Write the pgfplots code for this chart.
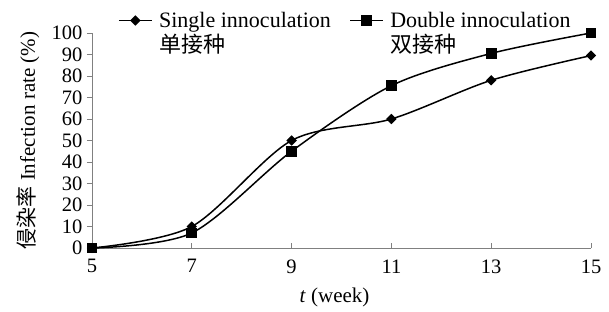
\documentclass[border=0pt]{standalone}
\usepackage{pgfplots}
\pgfplotsset{compat=1.18}
\usepackage{fontspec}
\setmainfont{Liberation Serif}
\newfontfamily\cjk{Noto Sans CJK SC}
\definecolor{axgray}{RGB}{128,128,128}
\begin{document}
\begin{tikzpicture}
\useasboundingbox (-92pt,-64pt) rectangle (517pt,248pt);
\begin{axis}[
  scale only axis, width=499pt, height=215pt,
  xmin=5, xmax=15, ymin=0, ymax=100,
  axis lines*=left,
  axis line style={axgray, line width=0.8pt},
  xtick={5,7,...,15}, ytick={0,10,...,100},
  tick align=outside,
  major tick length=5pt,
  tick style={axgray, line width=0.8pt},
  xtick style={yshift=5pt},
  clip=false,
  font=\fontsize{21}{24}\selectfont,
  tick label style={font=\fontsize{20.5}{24}\selectfont},
  /pgf/number format/assume math mode=true,
  xticklabel style={yshift=-3pt},
  yticklabel style={xshift=-1pt},
  ylabel={{\cjk 侵染率} Infection rate (\%)},
  xlabel={\textit{t} (week)},
  ylabel style={at={(axis description cs:-0.128,0.5)}, anchor=center},
  xlabel style={at={(axis description cs:0.486,-0.228)}, anchor=center},
  legend columns=2,
  legend cell align=left,
  legend style={draw=none, fill=none, inner sep=0pt,
    at={(axis description cs:0.052,1.105)}, anchor=north west,
    font=\fontsize{22}{24}\selectfont,
    nodes={inner sep=1.5pt},
    row sep=2pt,
    /tikz/every odd column/.append style={column sep=5pt},
    /tikz/every even column/.append style={column sep=17pt}},
  legend image code/.code={\draw[#1, mark=none] (0pt,0pt) -- (33pt,0pt);
     \draw[#1] plot coordinates {(16.5pt,0pt)};},
]
\addplot[black, line width=1.5pt, smooth, tension=0.5, mark=square*, mark size=2.9pt,
  mark options={solid, rotate=45}] coordinates {(5,0) (7,10) (9,50) (11,60) (13,78) (15,89.5)};
\addlegendentry{Single innoculation}
\addplot[black, line width=1.5pt, smooth, tension=0.5, mark=square*, mark size=4.6pt,
  mark options={solid}] coordinates {(5,0) (7,7) (9,45) (11,75.5) (13,90.5) (15,100)};
\addlegendentry{Double innoculation}
\addlegendimage{empty legend}
\addlegendentry{{\cjk 单接种}}
\addlegendimage{empty legend}
\addlegendentry{{\cjk 双接种}}
\end{axis}
\end{tikzpicture}
\end{document}
